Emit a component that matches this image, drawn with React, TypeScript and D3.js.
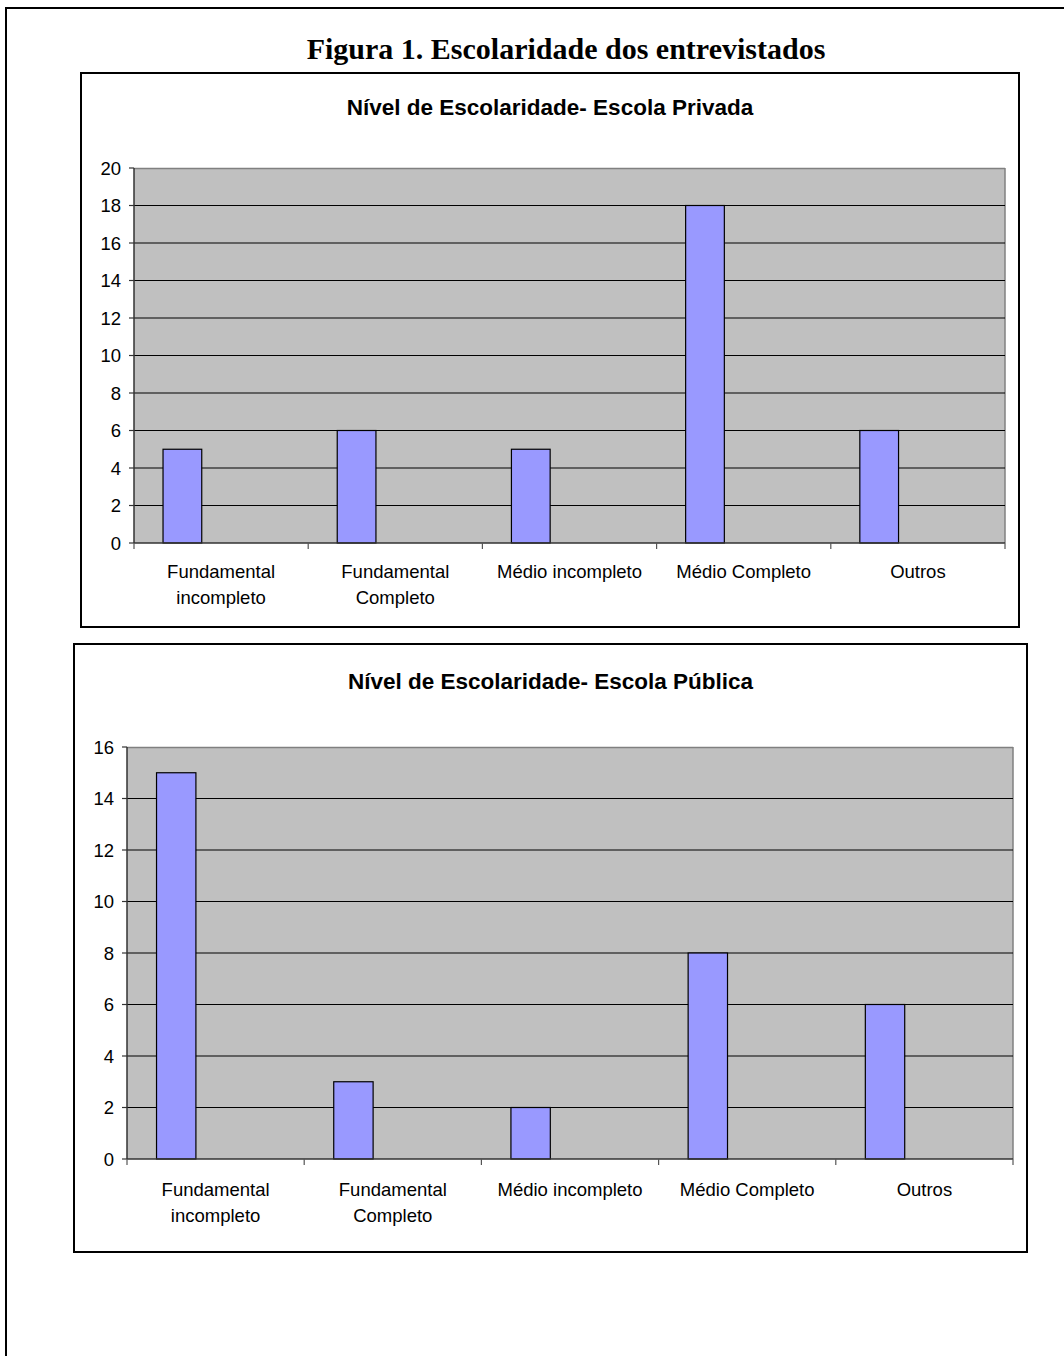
import React from "react";
import * as d3 from "d3";

const categories = [
  "Fundamental\nincompleto",
  "Fundamental\nCompleto",
  "Médio incompleto",
  "Médio Completo",
  "Outros",
];
const privadaValues = [5, 6, 5, 18, 6];
const publicaValues = [15, 3, 2, 8, 6];
const privadaTicks = [0, 2, 4, 6, 8, 10, 12, 14, 16, 18, 20];
const publicaTicks = [0, 2, 4, 6, 8, 10, 12, 14, 16];

const figureTitle = "Figura 1. Escolaridade dos entrevistados";
const privadaTitle = "Nível de Escolaridade- Escola Privada";
const publicaTitle = "Nível de Escolaridade- Escola Pública";

type ChartProps = {
  box: { x: number; y: number; w: number; h: number };
  plot: { left: number; top: number; right: number; bottom: number };
  title: string;
  titleY: number;
  values: number[];
  ticks: number[];
  yMax: number;
  labelY: number;
};

const SANS = "'Liberation Sans', Arial, sans-serif";

function BarChart({ box, plot, title, titleY, values, ticks, yMax, labelY }: ChartProps) {
  const x = d3
    .scaleBand<string>()
    .domain(categories)
    .range([plot.left, plot.right])
    .padding(0);
  const y = d3.scaleLinear().domain([0, yMax]).range([plot.bottom, plot.top]);
  const bw = x.bandwidth();
  // 3 series slots, gap width 150% -> only first slot filled
  const inner = d3
    .scaleBand<number>()
    .domain([0, 1, 2])
    .range([0, bw])
    .paddingInner(0)
    .paddingOuter(0.75);
  const barW = inner.bandwidth();
  return (
    <g>
      <rect x={box.x} y={box.y} width={box.w} height={box.h} fill="#fff" stroke="#000" strokeWidth={2} />
      <text x={box.x + box.w / 2} y={titleY} textAnchor="middle" fontFamily={SANS} fontWeight="bold" fontSize={22.5}>
        {title}
      </text>
      <rect x={plot.left} y={plot.top} width={plot.right - plot.left} height={plot.bottom - plot.top} fill="#C0C0C0" />
      <line x1={plot.left} x2={plot.right} y1={plot.top + 0.5} y2={plot.top + 0.5} stroke="#808080" strokeWidth={1.5} />
      <line x1={plot.right} x2={plot.right} y1={plot.top} y2={plot.bottom} stroke="#808080" strokeWidth={1.5} />
      {ticks
        .filter((t) => t > 0 && t < yMax)
        .map((t) => (
          <line key={"g" + t} x1={plot.left} x2={plot.right} y1={y(t)} y2={y(t)} stroke="#000" strokeWidth={1} />
        ))}
      {values.map((v, i) => {
        const c = categories[i];
        const bx = (x(c) as number) + (inner(0) as number);
        return (
          <rect
            key={"b" + i}
            x={bx}
            y={y(v)}
            width={barW}
            height={y(0) - y(v)}
            fill="#9999FF"
            stroke="#000"
            strokeWidth={1.2}
          />
        );
      })}
      <line x1={plot.left} x2={plot.left} y1={plot.top} y2={plot.bottom} stroke="#333" strokeWidth={1.5} />
      <line x1={plot.left} x2={plot.right} y1={plot.bottom} y2={plot.bottom} stroke="#333" strokeWidth={1.5} />
      {ticks.map((t) => (
        <g key={"t" + t}>
          <line x1={plot.left - 5} x2={plot.left} y1={y(t)} y2={y(t)} stroke="#333" strokeWidth={1.2} />
          <text x={plot.left - 13} y={y(t)} dy="0.36em" textAnchor="end" fontFamily={SANS} fontSize={18.5}>
            {t}
          </text>
        </g>
      ))}
      {[...categories.map((c) => x(c) as number), plot.right].map((px, i) => (
        <line key={"ct" + i} x1={px} x2={px} y1={plot.bottom} y2={plot.bottom + 6} stroke="#555" strokeWidth={1.2} />
      ))}
      {categories.map((c, i) => {
        const cx = (x(c) as number) + bw / 2;
        const lines = c.split("\n");
        return (
          <text key={"cl" + i} x={cx} y={labelY} textAnchor="middle" fontFamily={SANS} fontSize={18.5}>
            {lines.map((ln, j) => (
              <tspan key={j} x={cx} dy={j === 0 ? 0 : 25.5}>
                {ln}
              </tspan>
            ))}
          </text>
        );
      })}
    </g>
  );
}

export default function App() {
  return (
    <svg
      width={1064}
      height={1356}
      style={{ position: "absolute", left: 0, top: 0, background: "#fff" }}
    >
      <rect x={6} y={8} width={1100} height={1400} fill="#fff" stroke="#000" strokeWidth={2} />
      <text
        x={566}
        y={59}
        textAnchor="middle"
        fontFamily="'Liberation Serif', 'Times New Roman', serif"
        fontWeight="bold"
        fontSize={30}
      >
        {figureTitle}
      </text>
      <BarChart
        box={{ x: 81, y: 73, w: 938, h: 554 }}
        plot={{ left: 134, top: 168, right: 1005, bottom: 543 }}
        title={privadaTitle}
        titleY={115}
        values={privadaValues}
        ticks={privadaTicks}
        yMax={20}
        labelY={578}
      />
      <BarChart
        box={{ x: 74, y: 644, w: 953, h: 608 }}
        plot={{ left: 127, top: 747, right: 1013, bottom: 1159 }}
        title={publicaTitle}
        titleY={689}
        values={publicaValues}
        ticks={publicaTicks}
        yMax={16}
        labelY={1196}
      />
    </svg>
  );
}
